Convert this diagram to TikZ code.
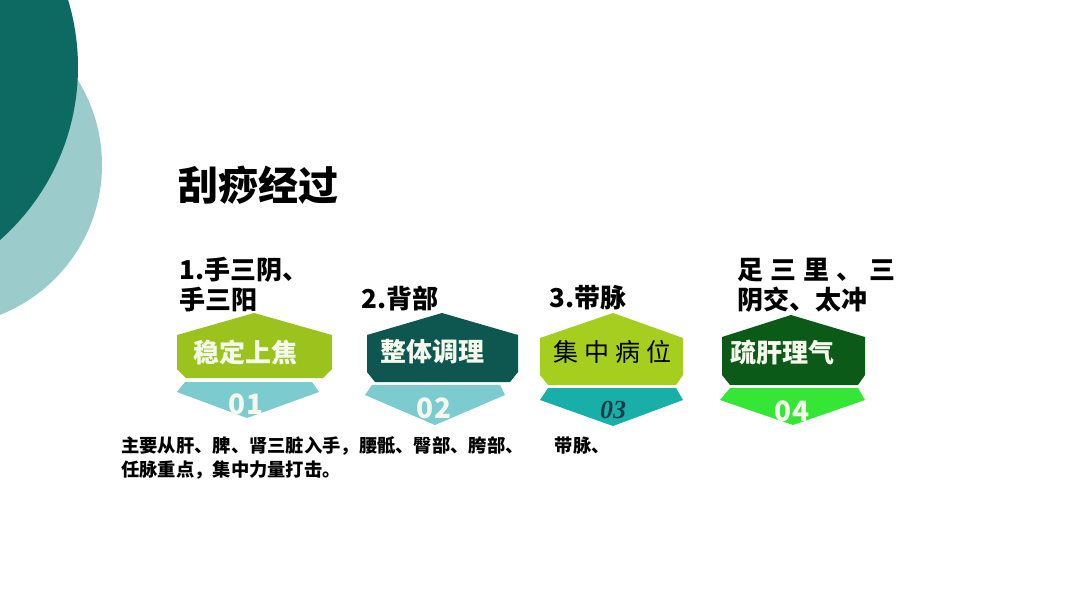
\documentclass[tikz,border=0pt]{standalone}
\usepackage{fontspec}
\setmainfont{Liberation Sans}
\newfontfamily\cjk{Noto Sans CJK SC}
\newfontfamily\serifb{Liberation Serif}
\definecolor{circdark}{HTML}{0D6A62}
\definecolor{circlight}{HTML}{9CCBCB}
\definecolor{gone}{HTML}{9CC31D}
\definecolor{tealone}{HTML}{7CCBCF}
\definecolor{darktwo}{HTML}{0D5750}
\definecolor{gthree}{HTML}{A6CE1E}
\definecolor{tealthree}{HTML}{17AFA8}
\definecolor{darkfour}{HTML}{0B5A17}
\definecolor{brightfour}{HTML}{36E636}
\definecolor{whitish}{HTML}{F4F9EC}
\definecolor{navy}{HTML}{1A3A4A}
\tikzset{
  lbl/.style={inner sep=0pt, anchor=west, font=\cjk\bfseries\fontsize{26}{30}\selectfont},
  boxtxt/.style={inner sep=0pt, text=whitish, font=\cjk\bfseries\fontsize{26}{30}\selectfont},
  numtxt/.style={inner sep=0pt, text=whitish, font=\cjk\bfseries\fontsize{28}{32}\selectfont},
}
\begin{document}
\begin{tikzpicture}[x=1pt,y=-1pt]
\useasboundingbox (0,0) rectangle (1080,608);
\fill[white] (0,0) rectangle (1080,608);
\begin{scope}
  \clip (0,0) rectangle (1080,608);
  \fill[circlight] (-59,165) circle (161pt);
  \fill[circdark] (-153,67) circle (231pt);
\end{scope}

% title
\node[inner sep=0pt, anchor=west, font=\cjk\bfseries\fontsize{40}{44}\selectfont] (title) at (178,185) {刮痧经过};

% labels
\node[lbl] (l1a) at (179,270) {1.手三阴、};
\node[lbl] (l1b) at (179,300) {手三阳};
\node[lbl] (l2) at (361,298) {2.背部};
\node[lbl] (l3) at (549,298) {3.带脉};
\node[lbl] (l4a) at (737,270) {足\hspace{7pt}三\hspace{7pt}里\hspace{7pt}、\hspace{7pt}三};
\node[lbl] (l4b) at (737,300) {阴交、太冲};

% unit 1
\fill[gone] (177,335) -- (254,313) -- (332,335) -- (332,369) -- (323,378) -- (186,378) -- (177,369) -- cycle;
\fill[tealone] (185,382) -- (312,382) -- (319,392) -- (247,418) -- (177,392) -- cycle;
\node[boxtxt] (b1) at (245,352) {稳定上焦};
\node[numtxt] (n1) at (246,404) {01};

% unit 2
\fill[darktwo] (367,335) -- (442,313) -- (518,335) -- (518,372) -- (510,382) -- (375,382) -- (367,372) -- cycle;
\fill[tealone] (372,385) -- (500,385) -- (505,395) -- (435,425) -- (365,395) -- cycle;
\node[boxtxt] (b2) at (432,352) {整体调理};
\node[numtxt] (n2) at (434,408) {02};

% unit 3
\fill[gthree] (540,338) -- (613,313) -- (683,338) -- (683,375) -- (676,385) -- (548,385) -- (540,375) -- cycle;
\fill[tealthree] (548,388) -- (676,388) -- (683,400) -- (613,426) -- (540,400) -- cycle;
\node[inner sep=0pt, text=black, font=\cjk\fontsize{25}{28}\selectfont] (b3) at (612,352) {集\hspace{6pt}中\hspace{6pt}病\hspace{6pt}位};
\node[inner sep=0pt, text=navy, font=\serifb\bfseries\itshape\fontsize{26}{30}\selectfont] (n3) at (613,410) {03};

% unit 4
\fill[darkfour] (722,337) -- (791,315) -- (865,337) -- (865,375) -- (858,385) -- (730,385) -- (722,375) -- cycle;
\fill[brightfour] (730,388) -- (858,388) -- (865,400) -- (793,425) -- (720,400) -- cycle;
\node[boxtxt] (b4) at (782,352) {疏肝理气};
\node[numtxt] (n4) at (792,411) {04};

% body text
\node[inner sep=0pt, anchor=north west, align=left, font=\cjk\bfseries\fontsize{18.3}{24}\selectfont] (body) at (121,436)
  {主要从肝、脾、肾三脏入手，腰骶、臀部、胯部、\hspace{31pt}带脉、\\任脉重点，集中力量打击。};
\end{tikzpicture}
\end{document}
